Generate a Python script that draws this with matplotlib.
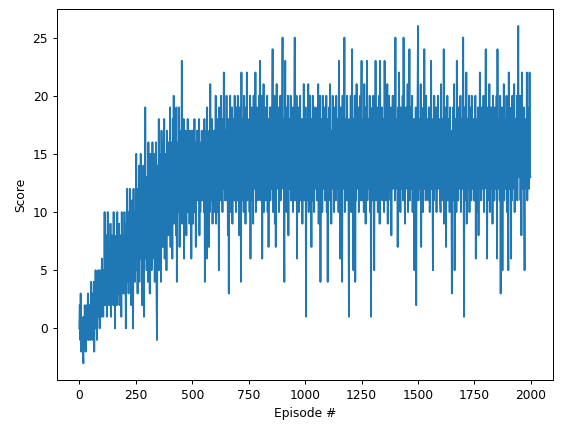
import matplotlib
matplotlib.use("Agg")
import matplotlib.pyplot as plt

# scores, one every 2 episodes (25 values per 50 episodes)
episodes = list(range(0, 2000, 2))
scores = [
    0, 2, -1, 3, -2, 1, -1, 0, -2, -3, 1, -1, 2, 0, -2, 1, -1, 2, 0, 3, -1, 1, 0, 2, -1,
    1, 4, 0, 2, -1, 3, 1, 4, -2, 2, 0, 5, 1, 3, -1, 4, 2, 5, 1, 3, 0, 5, 2, 4, 1,
    6, 2, 4, 1, 5, 3, 10, 2, 6, 4, 8, 1, 5, 10, 3, 7, 2, 6, 4, 9, 1, 5, 8, 3, 6,
    2, 10, 4, 7, 0, 6, 3, 8, 2, 10, 5, 7, 3, 9, 2, 6, 4, 8, 1, 10, 5, 7, 3, 8, 4,
    10, 3, 7, 0, 9, 5, 12, 4, 8, 3, 10, 6, 12, 4, 9, 2, 11, 5, 8, 0, 12, 6, 10, 4, 9,
    7, 15, 5, 12, 3, 10, 8, 14, 4, 11, 6, 15, 9, 13, 2, 10, 7, 14, 1, 12, 6, 19, 8, 13, 5,
    9, 13, 4, 16, 7, 12, 3, 15, 9, 14, 5, 11, 16, 6, 13, 8, 15, 4, 12, 9, 16, 3, -1, 10, 14,
    8, 18, 5, 15, 10, 13, 4, 17, 9, 14, 7, 16, 11, 18, 6, 13, 9, 15, 5, 17, 10, 14, 8, 16, 12,
    10, 19, 7, 16, 12, 14, 6, 18, 11, 20, 9, 15, 13, 17, 8, 19, 4, 14, 10, 16, 12, 19, 7, 15, 11,
    17, 10, 23, 9, 16, 12, 18, 6, 15, 11, 17, 13, 8, 16, 12, 18, 10, 14, 17, 9, 15, 12, 17, 6, 14,
    11, 17, 9, 15, 12, 18, 10, 14, 7, 16, 13, 17, 11, 15, 12, 18, 8, 16, 10, 14, 12, 17, 11, 15, 13,
    16, 10, 18, 4, 14, 12, 17, 6, 19, 11, 15, 13, 7, 17, 10, 21, 12, 16, 11, 18, 9, 15, 12, 17, 10,
    17, 12, 20, 9, 16, 13, 18, 10, 15, 5, 19, 12, 17, 11, 20, 14, 16, 10, 18, 12, 22, 13, 15, 11, 17,
    14, 20, 11, 16, 8, 18, 3, 15, 12, 20, 10, 17, 13, 19, 9, 16, 12, 18, 11, 20, 14, 16, 10, 19, 13,
    11, 20, 13, 17, 8, 19, 12, 16, 4, 22, 11, 18, 14, 16, 10, 20, 12, 17, 9, 19, 13, 22, 11, 16, 14,
    12, 18, 10, 20, 6, 17, 13, 19, 11, 16, 9, 20, 14, 18, 12, 22, 10, 17, 13, 19, 11, 16, 14, 20, 12,
    23, 11, 18, 13, 20, 6, 16, 12, 21, 10, 17, 14, 19, 11, 16, 13, 20, 10, 18, 7, 15, 12, 19, 11, 17,
    19, 12, 17, 24, 10, 16, 13, 20, 9, 18, 7, 14, 21, 12, 17, 13, 19, 10, 16, 14, 20, 11, 18, 12, 17,
    25, 13, 18, 11, 4, 16, 23, 12, 19, 10, 17, 14, 20, 8, 18, 12, 16, 13, 20, 11, 17, 14, 19, 10, 16,
    12, 18, 25, 11, 17, 13, 20, 6, 16, 12, 19, 10, 17, 14, 20, 11, 16, 13, 18, 9, 15, 12, 21, 11, 17,
    14, 19, 1, 16, 11, 18, 13, 21, 10, 17, 12, 20, 14, 16, 7, 18, 11, 20, 13, 17, 10, 19, 12, 16, 14,
    17, 11, 19, 13, 21, 9, 16, 12, 20, 4, 17, 13, 18, 10, 20, 12, 16, 14, 19, 11, 17, 13, 20, 10, 16,
    4, 18, 12, 19, 11, 21, 13, 17, 9, 16, 14, 20, 12, 17, 10, 19, 13, 16, 11, 20, 12, 18, 14, 16, 10,
    23, 12, 17, 6, 19, 11, 18, 4, 20, 13, 16, 12, 25, 10, 18, 14, 17, 11, 20, 13, 16, 12, 1, 18, 14,
    13, 20, 10, 17, 24, 12, 16, 5, 18, 13, 20, 4, 17, 11, 21, 13, 16, 12, 19, 10, 17, 14, 20, 11, 17,
    23, 11, 18, 13, 16, 10, 21, 12, 19, 9, 17, 13, 23, 11, 18, 14, 16, 12, 20, 10, 17, 1, 18, 13, 19,
    11, 20, 13, 5, 18, 12, 23, 11, 17, 14, 19, 10, 16, 13, 20, 9, 23, 12, 17, 14, 19, 11, 18, 12, 16,
    10, 23, 13, 18, 11, 16, 14, 21, 9, 17, 12, 20, 13, 16, 11, 19, 8, 17, 13, 20, 12, 16, 14, 20, 11,
    25, 12, 18, 14, 17, 7, 19, 11, 22, 13, 16, 10, 19, 12, 17, 13, 20, 11, 25, 14, 18, 9, 17, 12, 19,
    18, 12, 21, 10, 17, 14, 24, 11, 19, 13, 16, 12, 20, 10, 17, 14, 18, 5, 16, 12, 19, 2, 17, 13, 20,
    26, 11, 18, 13, 17, 12, 21, 7, 18, 14, 16, 10, 19, 12, 24, 13, 17, 11, 20, 12, 18, 14, 16, 11, 19,
    19, 10, 17, 13, 23, 12, 18, 14, 5, 17, 11, 20, 13, 16, 12, 19, 10, 17, 14, 20, 12, 16, 13, 18, 11,
    10, 21, 13, 17, 11, 18, 12, 24, 9, 16, 13, 19, 7, 17, 12, 20, 11, 18, 14, 16, 10, 19, 13, 17, 12,
    3, 17, 11, 19, 13, 21, 5, 16, 12, 18, 10, 23, 13, 17, 11, 19, 12, 16, 14, 20, 10, 18, 13, 16, 12,
    25, 12, 1, 19, 13, 17, 11, 22, 9, 18, 12, 16, 14, 20, 10, 17, 13, 19, 11, 20, 12, 16, 14, 18, 11,
    16, 11, 20, 6, 17, 13, 18, 10, 19, 8, 16, 12, 22, 13, 17, 11, 19, 12, 16, 14, 20, 10, 18, 13, 17,
    24, 12, 17, 6, 19, 11, 18, 13, 21, 10, 16, 14, 19, 12, 17, 9, 20, 13, 16, 11, 19, 12, 17, 14, 20,
    6, 24, 12, 18, 13, 16, 11, 20, 3, 17, 12, 19, 5, 16, 13, 21, 11, 18, 12, 17, 14, 20, 10, 18, 13,
    5, 22, 12, 19, 13, 17, 6, 18, 11, 20, 12, 16, 14, 21, 10, 18, 13, 17, 12, 20, 11, 19, 26, 13, 17,
    14, 20, 11, 18, 8, 22, 13, 17, 12, 19, 11, 5, 18, 13, 16, 12, 22, 11, 19, 14, 17, 12, 22, 13, 13,
]

fig = plt.figure(figsize=(562 / 87.8, 432 / 87.8), dpi=87.8)
ax = fig.add_axes([0.101, 0.120, 0.883, 0.859])
ax.plot(episodes, scores)
ax.set_xlabel("Episode #")
ax.set_ylabel("Score")
fig.savefig("out.png", dpi=87.8)
